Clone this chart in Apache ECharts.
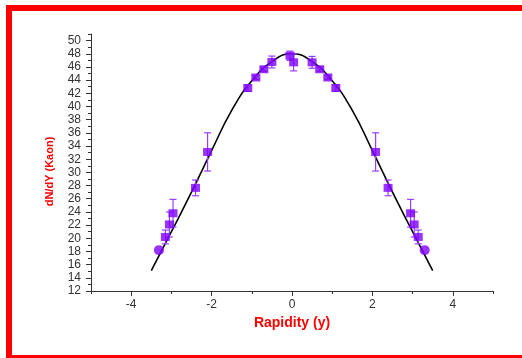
<!DOCTYPE html>
<html>
<head>
<meta charset="utf-8">
<script src="https://cdn.jsdelivr.net/npm/echarts@6/dist/echarts.min.js"></script>
<style>
html,body{margin:0;padding:0;background:#fff;}
#chart{width:522px;height:358px;}
</style>
</head>
<body>
<div id="chart"></div>
<script>
// Square markers (with error bars)
var squareX = [-3.15, -3.05, -2.96, -2.40, -2.10, -1.10, -0.90, -0.70, -0.50, -0.05, 0.04, 0.50, 0.69, 0.89, 1.09, 2.08, 2.39, 2.95, 3.04, 3.14];
var squareY = [20.2, 22.1, 23.8, 27.65, 33.1, 42.8, 44.4, 45.65, 46.75, 47.7, 46.7, 46.7, 45.65, 44.4, 42.8, 33.1, 27.65, 23.8, 22.1, 20.2];
var squareErr = [1.05, 1.9, 2.1, 1.2, 2.9, 0.5, 0.3, 0.3, 0.9, 0.7, 1.3, 0.9, 0.3, 0.3, 0.5, 2.9, 1.2, 2.1, 1.9, 1.05];
// Circle markers
var circleX = [-3.31, 3.30];
var circleY = [18.2, 18.2];
// Fitted curve
var curveX = [-3.5, -3.0, -2.5, -2.0, -1.5, -1.0, -0.5, 0, 0.5, 1.0, 1.5, 2.0, 2.5, 3.0, 3.5];
var curveY = [15.1, 21.0, 27.0, 33.3, 39.4, 43.9, 46.8, 48.0, 46.8, 43.9, 39.4, 33.3, 27.0, 21.0, 15.1];
// Tick labels
var xMajor = [-4, -2, 0, 2, 4];
var xMinor = [-5, -3, -1, 1, 3, 5];
var yMajor = [12, 14, 16, 18, 20, 22, 24, 26, 28, 30, 32, 34, 36, 38, 40, 42, 44, 46, 48, 50];
var yMinor = [13, 15, 17, 19, 21, 23, 25, 27, 29, 31, 33, 35, 37, 39, 41, 43, 45, 47, 49, 51];

var chart = echarts.init(document.getElementById('chart'), null, {renderer: 'canvas'});

var errData = squareX.map(function (x, i) { return [x, squareY[i], squareErr[i]]; });
var sqData = squareX.map(function (x, i) { return [x, squareY[i]]; });
var ciData = circleX.map(function (x, i) { return [x, circleY[i]]; });
var curveData = curveX.map(function (x, i) { return [x, curveY[i]]; });

var axisFont = {fontFamily: 'Liberation Sans', fontSize: 12, color: '#333'};
var lineStyle = {color: '#333', width: 1};

var option = {
  animation: false,
  backgroundColor: '#fff',
  grid: {left: 91, right: 29, top: 34, bottom: 67, containLabel: false},
  graphic: [{
    type: 'rect', z: 100,
    shape: {x: 9, y: 8, width: 600, height: 350},
    style: {fill: 'none', stroke: '#ff0000', lineWidth: 6}
  }],
  xAxis: [{
    type: 'value', min: -5, max: 5, interval: 1,
    axisLine: {show: true, onZero: false, lineStyle: lineStyle},
    axisTick: {show: true, length: 5, lineStyle: lineStyle, customValues: xMajor},
    axisLabel: Object.assign({margin: 8, customValues: xMajor}, axisFont),
    splitLine: {show: false},
    name: 'Rapidity (y)', nameLocation: 'middle', nameGap: 24,
    nameTextStyle: {fontFamily: 'Liberation Sans', fontSize: 14, fontWeight: 'bold', color: '#ff0000'}
  }, {
    type: 'value', min: -5, max: 5, interval: 1, position: 'bottom',
    axisLine: {show: false, onZero: false},
    axisTick: {show: true, length: 3, lineStyle: lineStyle, customValues: xMinor},
    axisLabel: {show: false},
    splitLine: {show: false}
  }],
  yAxis: [{
    type: 'value', min: 12, max: 51, interval: 1,
    axisLine: {show: true, onZero: false, lineStyle: lineStyle},
    axisTick: {show: true, length: 5, lineStyle: lineStyle, customValues: yMajor},
    axisLabel: Object.assign({margin: 10, customValues: yMajor}, axisFont),
    splitLine: {show: false},
    name: 'dN/dY (Kaon)', nameLocation: 'middle', nameGap: 36, nameRotate: 90,
    nameTextStyle: {fontFamily: 'Liberation Sans', fontSize: 11, fontWeight: 'bold', color: '#ff0000', padding: [0, 18, 0, 0]}
  }, {
    type: 'value', min: 12, max: 51, interval: 1, position: 'left',
    axisLine: {show: false, onZero: false},
    axisTick: {show: true, length: 3, lineStyle: lineStyle, customValues: yMinor},
    axisLabel: {show: false},
    splitLine: {show: false}
  }],
  series: [{
    type: 'line', data: curveData, smooth: 0.5, showSymbol: false, symbol: 'none',
    lineStyle: {color: '#000', width: 1.6}, z: 2
  }, {
    type: 'custom', data: errData, z: 3,
    renderItem: function (params, api) {
      var x = api.value(0), y = api.value(1), e = api.value(2);
      var top = api.coord([x, y + e]);
      var bot = api.coord([x, y - e]);
      var hw = 3.5;
      var st = {stroke: '#9b3dff', lineWidth: 1.2};
      return {type: 'group', children: [
        {type: 'line', shape: {x1: top[0], y1: top[1], x2: bot[0], y2: bot[1]}, style: st},
        {type: 'line', shape: {x1: top[0] - hw, y1: top[1], x2: top[0] + hw, y2: top[1]}, style: st},
        {type: 'line', shape: {x1: bot[0] - hw, y1: bot[1], x2: bot[0] + hw, y2: bot[1]}, style: st}
      ]};
    }
  }, {
    type: 'scatter', data: sqData, symbol: 'rect', symbolSize: [9, 8], z: 4,
    itemStyle: {color: '#7f00ff'}
  }, {
    type: 'scatter', data: ciData, symbol: 'circle', symbolSize: 10, z: 4,
    itemStyle: {color: '#7f00ff'}
  }]
};
chart.setOption(option);
</script>
</body>
</html>
